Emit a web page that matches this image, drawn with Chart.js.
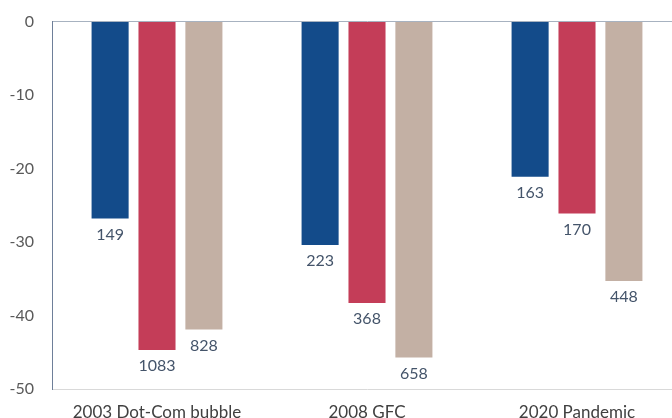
<!DOCTYPE html>
<html>
<head>
<meta charset="utf-8">
<script src="https://cdn.jsdelivr.net/npm/chart.js@4/dist/chart.umd.min.js"></script>
<style>
html,body{margin:0;padding:0;background:#fff;overflow:hidden;width:672px;height:418px;}
#wrap{position:absolute;left:0;top:-6px;width:692px;height:438px;}
</style>
</head>
<body>
<div id="wrap"><canvas id="c" width="692" height="438"></canvas></div>
<script>
const categories = ["2003 Dot-Com bubble", "2008 GFC", "2020 Pandemic"];
const seriesA = [-26.8, -30.4, -21.1];
const seriesB = [-44.7, -38.3, -26.1];
const seriesC = [-41.9, -45.7, -35.3];
const labelsA = ["149", "223", "163"];
const labelsB = ["1083", "368", "170"];
const labelsC = ["828", "658", "448"];
const yTicks = [0, -10, -20, -30, -40, -50];

const FONT = "Lato, 'Open Sans', sans-serif";

const belowLabels = {
  id: 'belowLabels',
  afterDatasetsDraw(chart) {
    const ctx = chart.ctx;
    ctx.save();
    ctx.font = "16px " + FONT;
    ctx.fillStyle = "#44546A";
    ctx.textAlign = "center";
    ctx.textBaseline = "top";
    chart.data.datasets.forEach((ds, i) => {
      const meta = chart.getDatasetMeta(i);
      meta.data.forEach((el, j) => {
        ctx.fillText(ds.valueLabels[j], el.x, el.y + 8);
      });
    });
    ctx.restore();
  }
};

new Chart(document.getElementById('c'), {
  type: 'bar',
  data: {
    labels: categories,
    datasets: [
      { data: seriesA, valueLabels: labelsA, backgroundColor: '#134B8A' },
      { data: seriesB, valueLabels: labelsB, backgroundColor: '#C43D58' },
      { data: seriesC, valueLabels: labelsC, backgroundColor: '#C3B0A4' }
    ]
  },
  options: {
    responsive: false,
    animation: false,
    events: [],
    categoryPercentage: 0.67,
    barPercentage: 0.79,
    layout: { padding: { top: 16, right: 10, left: 0, bottom: 0 } },
    plugins: { legend: { display: false }, tooltip: { enabled: false } },
    scales: {
      x: {
        grid: { display: false, drawTicks: false },
        border: { color: '#D9D9D9', width: 1 },
        ticks: { color: '#404040', font: { family: FONT, size: 17 }, padding: 13, maxRotation: 0 },
        afterFit(s) { s.height = 43; }
      },
      y: {
        min: -50, max: 0,
        afterBuildTicks(s) { s.ticks = yTicks.map(v => ({ value: v })); },
        grid: {
          drawTicks: false,
          color: (c) => c.tick && c.tick.value === 0 ? '#A7B2C0' : 'rgba(0,0,0,0)'
        },
        border: { color: '#6E7F99', width: 1 },
        ticks: { color: '#595959', font: { family: FONT, size: 16 }, padding: 18 },
        afterFit(s) { s.width = 52; }
      }
    }
  },
  plugins: [belowLabels]
});
</script>
</body>
</html>
